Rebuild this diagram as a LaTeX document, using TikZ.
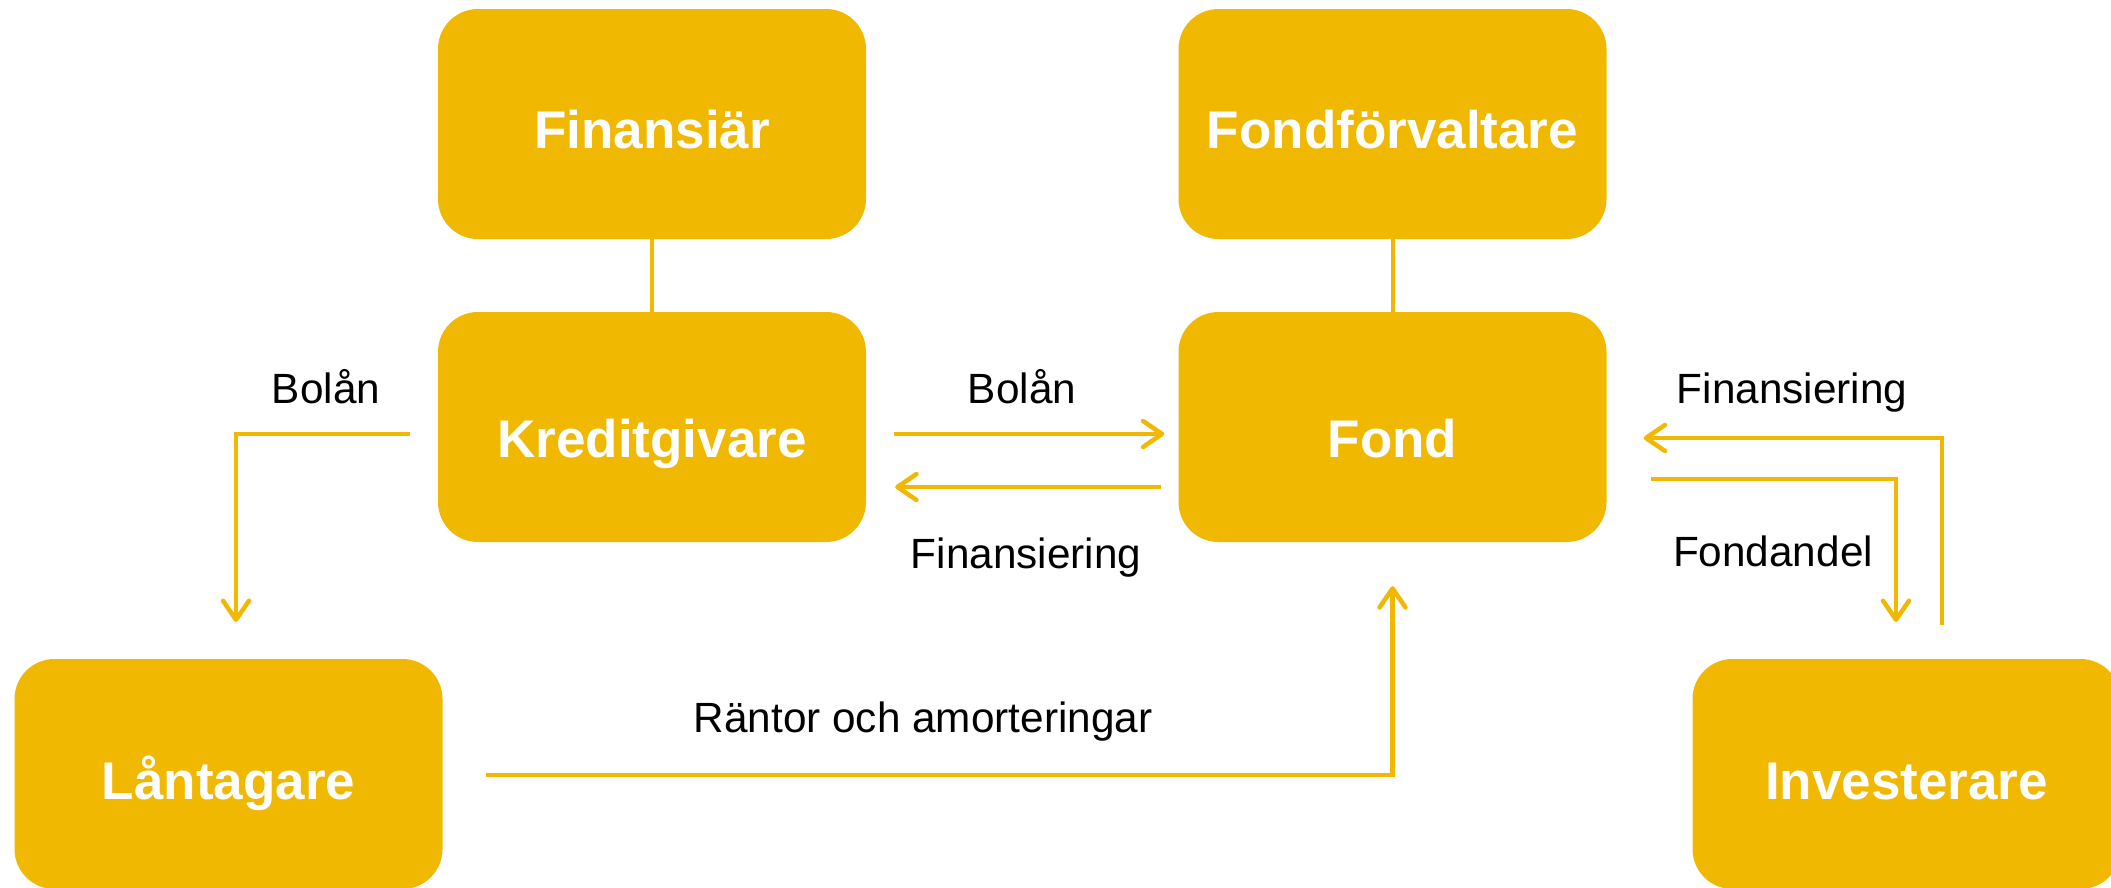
\documentclass[tikz,border=0pt]{standalone}
\usepackage{fontspec}
\setmainfont{Liberation Sans}
\usetikzlibrary{arrows.meta}
\definecolor{gold}{RGB}{240,184,0}
\begin{document}
\begin{tikzpicture}[x=1pt,y=-1pt,
  box/.style={fill=gold, rounded corners=40pt, minimum width=428pt, minimum height=230pt,
    inner sep=0pt, text=white, font=\fontsize{53}{60}\selectfont\bfseries, text depth=0pt},
  lbl/.style={font=\fontsize{42.3}{48}\selectfont, anchor=base, inner sep=0pt},
  conn/.style={draw=gold, line width=4.5pt},
  arr/.style={conn, -{Straight Barb[length=19pt,width=26pt,round]}}]
\useasboundingbox (0,0) rectangle (2111,887);
% boxes
\node[box, text height=48pt] (fin)  at (652,124)    {Finansiär};
\node[box, text height=48pt] (ff)   at (1392.5,124) {Fondförvaltare};
\node[box, text height=60pt] (kred) at (652,427)    {Kreditgivare};
\node[box, text height=60pt] (fond) at (1392.5,427) {Fond};
\node[box, text height=50pt] (lan)  at (228.5,774)  {Låntagare};
\node[box, text height=50pt] (inv)  at (1906.5,774) {Investerare};
% free ends
\coordinate (bolanend) at (236,622);
\coordinate (invstart) at (1942,625);
\coordinate (fondandelend) at (1896,622);
% connectors
\draw[conn, line width=4pt] (fin) -- (kred);
\draw[conn, line width=4pt] (ff) -- (fond);
\draw[arr] ([xshift=-28pt,yshift=-7pt]kred.west) -| (bolanend);
\draw[arr] ([xshift=28pt,yshift=-7pt]kred.east) -- ([xshift=-14pt,yshift=-7pt]fond.west);
\draw[arr] ([xshift=-17pt,yshift=-60pt]fond.west) -- ([xshift=29pt,yshift=-60pt]kred.east);
\draw[arr] (invstart) |- ([xshift=37pt,yshift=-11pt]fond.east);
\draw[arr] ([xshift=44pt,yshift=-52pt]fond.east) -| (fondandelend);
\draw[arr] ([xshift=43pt,yshift=-1pt]lan.east) -| ([yshift=-44pt]fond.south);
% labels
\node[lbl] (l1) at (326,403)  {Bolån};
\node[lbl] (l2) at (1022,403) {Bolån};
\node[lbl] (l3) at (1026,568) {Finansiering};
\node[lbl] (l4) at (1792,403) {Finansiering};
\node[lbl] (l5) at (1773,566) {Fondandel};
\node[lbl] (l6) at (923,732)  {Räntor och amorteringar};
\end{tikzpicture}
\end{document}
